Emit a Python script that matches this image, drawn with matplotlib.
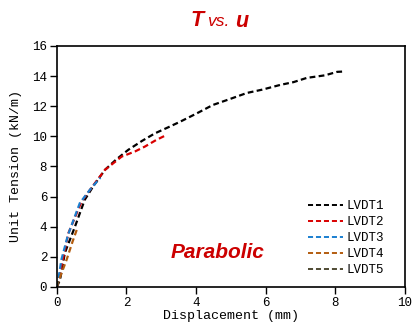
import matplotlib
matplotlib.use('Agg')
import matplotlib.pyplot as plt

# LVDT readings: displacement (mm) vs unit tension (kN/m)
x1 = [0.0, 0.09, 0.23, 0.52, 0.80, 1.05, 1.38, 1.70, 2.05, 2.45, 2.82, 3.20, 3.55, 4.00, 4.48, 5.00, 5.46, 5.90, 6.41, 6.80, 7.18, 7.70, 8.05, 8.22]
y1 = [0.0, 0.46, 2.26, 4.00, 5.78, 6.70, 7.77, 8.45, 9.10, 9.70, 10.20, 10.60, 10.98, 11.50, 12.08, 12.50, 12.88, 13.10, 13.41, 13.60, 13.88, 14.05, 14.28, 14.30]

x2 = [0.0, 0.09, 0.33, 0.71, 1.00, 1.38, 1.86, 2.25, 2.53, 2.85, 3.15]
y2 = [0.0, 0.90, 3.56, 5.67, 6.60, 7.77, 8.65, 9.00, 9.32, 9.75, 10.09]

x3 = [0.0, 0.05, 0.13, 0.32, 0.66, 1.00, 1.25]
y3 = [0.0, 0.60, 1.80, 3.45, 5.57, 6.60, 7.25]

x4 = [0.0, 0.05, 0.28, 0.45, 0.57]
y4 = [0.0, 0.40, 1.80, 3.00, 3.78]

x5 = [0.0, 0.02, 0.04]
y5 = [0.0, 0.25, 0.50]

names = ['LVDT1', 'LVDT2', 'LVDT3', 'LVDT4', 'LVDT5']
colors = ['black', '#d90000', '#1a7fd0', '#b35c0f', '#4f4a33']

mono = 'Liberation Mono'
sans = 'Liberation Sans'
red = '#cc0000'

fig = plt.figure(figsize=(4.12, 3.26), dpi=100)
ax = fig.add_axes([0.138, 0.12, 0.845, 0.739])

dash = (0, (2.6, 1.5))
for xs, ys, name, c in zip([x1, x2, x3, x4, x5], [y1, y2, y3, y4, y5], names, colors):
    ax.plot(xs, ys, color=c, lw=1.6, linestyle=dash, label=name)

ax.set_xlim(0, 10)
ax.set_ylim(0, 16)
ax.set_xticks(range(0, 11, 2))
ax.set_yticks(range(0, 17, 2))
for lab in ax.get_xticklabels() + ax.get_yticklabels():
    lab.set_fontfamily(mono)
    lab.set_fontsize(9)
ax.tick_params(direction='out', length=5, width=1, pad=2)
for s in ax.spines.values():
    s.set_linewidth(1.2)

ax.set_xlabel('Displacement (mm)', fontfamily=mono, fontsize=9.6, labelpad=1)
ax.set_ylabel('Unit Tension (kN/m)', fontfamily=mono, fontsize=9.6, labelpad=7)

leg = ax.legend(loc='upper left', bbox_to_anchor=(308 / 412, 1 - 200 / 326),
                bbox_transform=fig.transFigure, frameon=False,
                prop={'family': mono, 'size': 9}, handlelength=2.8,
                handletextpad=0.3, labelspacing=0.32, borderpad=0,
                borderaxespad=0)
for h in leg.get_lines():
    h.set_linewidth(1.4)

ax.text(218 / 412, 1 - 252 / 326, 'Parabolic', transform=fig.transFigure, color=red,
        fontfamily=sans, fontsize=15, fontweight='bold', fontstyle='italic',
        ha='center', va='center')

# title in pieces: bold italic T, plain italic "vs.", bold italic u
fig.text(190 / 412, 1 - 20 / 326, 'T', color=red, fontfamily=sans, fontsize=15.5,
         fontweight='bold', fontstyle='italic', ha='left', va='center')
fig.text(207 / 412, 1 - 21.5 / 326, 'vs.', color=red, fontfamily=sans, fontsize=12.5,
         fontstyle='italic', ha='left', va='center')
fig.text(235 / 412, 1 - 21.5 / 326, 'u', color=red, fontfamily=sans, fontsize=15.5,
         fontweight='bold', fontstyle='italic', ha='left', va='center')

fig.savefig('out.png', dpi=100)
